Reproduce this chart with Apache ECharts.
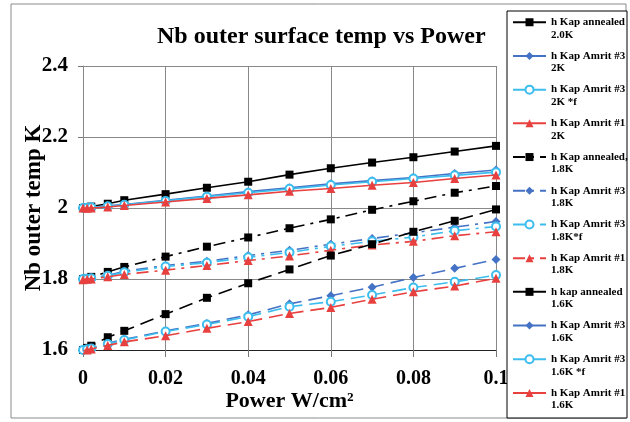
<!DOCTYPE html>
<html><head><meta charset="utf-8">
<script src="https://cdn.jsdelivr.net/npm/echarts@6/dist/echarts.min.js"></script>
<style>html,body{margin:0;padding:0;background:#fff}#c{width:630px;height:422px}</style>
</head><body><div id="c"></div>
<script>
var titleText = 'Nb outer surface temp vs Power';
var xName = 'Power W/cm\u00B2';
var yName = 'Nb outer temp K';
var xs = [0, 0.001, 0.002, 0.006, 0.01, 0.02, 0.03, 0.04, 0.05, 0.06, 0.07, 0.08, 0.09, 0.1];

var ann20  = [2.0, 2.002, 2.004, 2.012, 2.022, 2.039, 2.057, 2.074, 2.094, 2.112, 2.128, 2.143, 2.159, 2.175];
var a3_20  = [2.0, 2.001, 2.002, 2.006, 2.010, 2.022, 2.034, 2.046, 2.057, 2.068, 2.077, 2.086, 2.097, 2.107];
var a3f_20 = [2.0, 2.001, 2.002, 2.005, 2.009, 2.020, 2.032, 2.043, 2.054, 2.065, 2.074, 2.083, 2.092, 2.101];
var a1_20  = [2.0, 1.999, 2.0, 2.003, 2.007, 2.017, 2.027, 2.037, 2.047, 2.055, 2.064, 2.072, 2.083, 2.093];

var ann18  = [1.8, 1.803, 1.806, 1.82, 1.834, 1.863, 1.891, 1.917, 1.943, 1.968, 1.995, 2.019, 2.043, 2.062];
var a3_18  = [1.8, 1.801, 1.803, 1.81, 1.822, 1.838, 1.85, 1.866, 1.881, 1.898, 1.914, 1.93, 1.946, 1.962];
var a3f_18 = [1.8, 1.801, 1.802, 1.809, 1.819, 1.835, 1.846, 1.861, 1.875, 1.892, 1.906, 1.918, 1.936, 1.948];
var a1_18  = [1.798, 1.799, 1.8, 1.806, 1.813, 1.825, 1.838, 1.852, 1.865, 1.881, 1.896, 1.906, 1.922, 1.933];

var ann16  = [1.6, 1.606, 1.612, 1.636, 1.654, 1.701, 1.747, 1.788, 1.827, 1.866, 1.898, 1.933, 1.964, 1.996];
var a3_16  = [1.6, 1.602, 1.605, 1.619, 1.63, 1.654, 1.675, 1.699, 1.73, 1.753, 1.777, 1.804, 1.83, 1.855];
var a3f_16 = [1.6, 1.602, 1.604, 1.617, 1.628, 1.652, 1.672, 1.694, 1.722, 1.736, 1.755, 1.776, 1.792, 1.811];
var a1_16  = [1.598, 1.6, 1.603, 1.613, 1.623, 1.64, 1.661, 1.68, 1.703, 1.72, 1.743, 1.764, 1.78, 1.802];

var names = [
  'h Kap annealed\n2.0K', 'h Kap Amrit #3\n2K', 'h Kap Amrit #3\n2K *f', 'h Kap Amrit #1\n2K',
  'h Kap annealed,\n1.8K', 'h Kap Amrit #3\n1.8K', 'h Kap Amrit #3\n1.8K*f', 'h Kap Amrit #1\n1.8K',
  'h kap annealed\n1.6K', 'h Kap Amrit #3\n1.6K', 'h Kap Amrit #3\n1.6K *f', 'h Kap Amrit #1\n1.6K'
];
var values = [ann20, a3_20, a3f_20, a1_20, ann18, a3_18, a3f_18, a1_18, ann16, a3_16, a3f_16, a1_16];

var BLACK = '#000000', BLUE = '#4472C4', CYAN = '#3CBDEE', RED = '#E8403F';
var colors = [BLACK, BLUE, CYAN, RED];
var symbols = ['rect', 'diamond', 'emptyCircle', 'triangle'];
var symSizes = [8, 9, 8, 9];
var dashes = ['solid', [12, 6, 3, 6], [14, 7]];

var FONT = '"Liberation Serif", "Times New Roman", serif';

var series = values.map(function (v, i) {
  var g = Math.floor(i / 4), k = i % 4;
  return {
    name: names[i],
    type: 'line',
    data: xs.map(function (x, j) { return [x, v[j]]; }),
    symbol: symbols[k],
    symbolSize: symSizes[k],
    showSymbol: true,
    color: colors[k],
    lineStyle: { color: colors[k], width: 1.6, type: dashes[g] },
    itemStyle: { color: colors[k], borderWidth: k === 2 ? 1.6 : 0 },
    z: 2 + i * 0.01,
    animation: false
  };
});

var legendData = names.map(function (n, i) {
  var g = Math.floor(i / 4);
  var item = { name: n };
  if (g === 2) item.lineStyle = { type: 'solid' };
  return item;
});

var chart = echarts.init(document.getElementById('c'));
chart.setOption({
  animation: false,
  backgroundColor: '#fff',
  title: {
    text: titleText, left: 152, top: 20,
    textStyle: { fontFamily: FONT, fontWeight: 'bold', fontSize: 24, color: '#000' }
  },
  graphic: [
    { type: 'rect', shape: { x: 11, y: 4, width: 615, height: 414 }, style: { fill: 'none', stroke: '#8a8a8a', lineWidth: 1 }, z: 1, silent: true },
    { type: 'rect', shape: { x: 507, y: 11, width: 120, height: 407 }, style: { fill: '#fff', stroke: '#000', lineWidth: 1 }, z: 5, silent: true }
  ],
  legend: {
    orient: 'vertical', left: 512, top: 3.5,
    data: legendData,
    formatter: function (n) { return '\n' + n; },
    itemWidth: 33, itemHeight: 10, itemGap: -3.8,
    padding: 0, z: 6,
    textStyle: { fontFamily: FONT, fontWeight: 'bold', fontSize: 11, color: '#000', lineHeight: 12.5 }
  },
  grid: { left: 83, right: 134, top: 66, bottom: 72 },
  xAxis: {
    type: 'value', min: 0, max: 0.1, interval: 0.02,
    name: xName, nameLocation: 'middle', nameGap: 40, nameMoveOverlap: false,
    nameTextStyle: { fontFamily: FONT, fontWeight: 'bold', fontSize: 22, color: '#000' },
    axisLine: { show: true, onZero: false, lineStyle: { color: '#222', width: 1 } },
    axisTick: { show: true, length: 7, lineStyle: { color: '#777' } },
    axisLabel: { fontFamily: FONT, fontWeight: 'bold', fontSize: 20, color: '#000', margin: 19 },
    splitLine: { show: true, lineStyle: { color: '#888', width: 1 } }
  },
  yAxis: {
    type: 'value', min: 1.6, max: 2.4, interval: 0.2,
    name: yName, nameLocation: 'middle', nameGap: 37, nameRotate: 90, nameMoveOverlap: false,
    nameTextStyle: { fontFamily: FONT, fontWeight: 'bold', fontSize: 23, color: '#000' },
    axisLine: { show: true, lineStyle: { color: '#888', width: 1 } },
    axisTick: { show: true, length: 5, lineStyle: { color: '#777' } },
    axisLabel: { fontFamily: FONT, fontWeight: 'bold', fontSize: 21, color: '#000', margin: 15 },
    splitLine: { show: true, lineStyle: { color: '#888', width: 1 } }
  },
  series: series
});
</script></body></html>
